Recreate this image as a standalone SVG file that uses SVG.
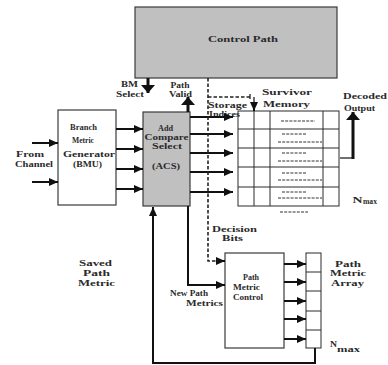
<svg xmlns="http://www.w3.org/2000/svg" width="388" height="365" viewBox="0 0 388 365">
<style>
text{font-family:"Liberation Serif","Times New Roman",serif;font-weight:bold;fill:#2a2a2a;text-anchor:middle;font-size:9px}
.box{stroke:#3a3a3a;stroke-width:1.2}
.gray{fill:#c0c0c0}
.white{fill:#fff}
.grid{stroke:#2a2a2a;stroke-width:1;fill:none}
.dash{stroke:#333;stroke-width:1;stroke-dasharray:3 1.2;fill:none}
.ln{stroke:#111;stroke-width:2;fill:none}
.thin{stroke:#222;stroke-width:1.3;fill:none}
.thick{stroke:#111;stroke-width:3;fill:none}
.dl{stroke:#222;stroke-width:1.6;stroke-dasharray:3.5 2;fill:none}
</style>
<defs>
<marker id="ah" viewBox="0 0 9 8" refX="9" refY="4" markerWidth="9" markerHeight="8" markerUnits="userSpaceOnUse" orient="auto"><path d="M0,0 L9,4 L0,8 z" fill="#111"/></marker>
<marker id="ahb" viewBox="0 0 8 14" refX="8" refY="7" markerWidth="8" markerHeight="14" markerUnits="userSpaceOnUse" orient="auto"><path d="M0,0 L8,7 L0,14 z" fill="#111"/></marker>
</defs>
<rect width="388" height="365" fill="#fff"/>

<g id="control-path">
<rect class="box gray" x="135" y="7" width="202" height="71"/>
<text x="243" y="42" font-size="12" textLength="70" lengthAdjust="spacingAndGlyphs">Control Path</text>
</g>

<g id="bmu">
<rect class="box white" x="58" y="110" width="58" height="95"/>
<text x="83.5" y="130" font-size="9.5" textLength="27" lengthAdjust="spacingAndGlyphs">Branch</text>
<text x="83" y="143" font-size="9.5" textLength="22" lengthAdjust="spacingAndGlyphs">Metric</text>
<text x="89" y="157" font-size="10" textLength="52" lengthAdjust="spacingAndGlyphs">Generator</text>
<text x="87.5" y="167" textLength="29" lengthAdjust="spacingAndGlyphs">(BMU)</text>
</g>

<g id="acs">
<rect class="box gray" x="143" y="112" width="47" height="94"/>
<text x="165.5" y="131" textLength="15" lengthAdjust="spacingAndGlyphs">Add</text>
<text x="166.5" y="140" textLength="44" lengthAdjust="spacingAndGlyphs">Compare</text>
<text x="167" y="148.5" textLength="30" lengthAdjust="spacingAndGlyphs">Select</text>
<text x="166" y="168.5" font-size="9.5" textLength="28" lengthAdjust="spacingAndGlyphs">(ACS)</text>
</g>

<g id="survivor-memory">
<rect class="grid" x="238" y="111" width="101" height="95"/>
<path class="grid" d="M238,129H339M238,148H339M238,167H339M238,187H339M254,111V206M270,111V206M323,111V206"/>
<path class="dash" d="M281,121H315M282,134H306M278,142H322M282,153H306M278,161H322M282,173H306M278,180H322M282,192H306M278,198H322M280,212H308"/>
<text x="287" y="95" font-size="10.5" textLength="50" lengthAdjust="spacingAndGlyphs">Survivor</text>
<text x="286.5" y="107" font-size="10.5" textLength="47" lengthAdjust="spacingAndGlyphs">Memory</text>
<text x="357.5" y="203" font-size="11" textLength="10" lengthAdjust="spacingAndGlyphs">N</text>
<text x="370" y="204" font-size="7.5" textLength="14" lengthAdjust="spacingAndGlyphs">max</text>
</g>

<g id="pmc">
<rect class="box white" x="225" y="253" width="59" height="95"/>
<text x="251" y="279.5" textLength="16" lengthAdjust="spacingAndGlyphs">Path</text>
<text x="246.5" y="290" textLength="27" lengthAdjust="spacingAndGlyphs">Metric</text>
<text x="248" y="299.5" textLength="30" lengthAdjust="spacingAndGlyphs">Control</text>
</g>

<g id="pm-array">
<rect class="grid" x="306" y="253" width="15" height="95"/>
<path class="grid" d="M306,272H321M306,291H321M306,311H321M306,330H321"/>
<text x="348" y="266.5" textLength="26" lengthAdjust="spacingAndGlyphs">Path</text>
<text x="348" y="275.5" textLength="36" lengthAdjust="spacingAndGlyphs">Metric</text>
<text x="347.5" y="285.5" textLength="33" lengthAdjust="spacingAndGlyphs">Array</text>
<text x="333.5" y="347" font-size="9.5" textLength="7" lengthAdjust="spacingAndGlyphs">N</text>
<text x="348.5" y="351.5" font-size="9" textLength="23" lengthAdjust="spacingAndGlyphs">max</text>
</g>

<g id="labels">
<text x="129.5" y="86.5" textLength="17" lengthAdjust="spacingAndGlyphs">BM</text>
<text x="130" y="96.5" textLength="28" lengthAdjust="spacingAndGlyphs">Select</text>
<text x="180" y="87.5" textLength="19" lengthAdjust="spacingAndGlyphs">Path</text>
<text x="180.5" y="96.5" textLength="23" lengthAdjust="spacingAndGlyphs">Valid</text>
<text x="227.5" y="107.5" textLength="39" lengthAdjust="spacingAndGlyphs">Storage</text>
<text x="224.5" y="116.5" font-size="8.5" textLength="31" lengthAdjust="spacingAndGlyphs">Indices</text>
<text x="365" y="98.5" font-size="10.5" textLength="44" lengthAdjust="spacingAndGlyphs">Decoded</text>
<text x="359.5" y="110.5" font-size="10.5" textLength="31" lengthAdjust="spacingAndGlyphs">Output</text>
<text x="30" y="156.5" font-size="9.5" textLength="28" lengthAdjust="spacingAndGlyphs">From</text>
<text x="34" y="166.5" font-size="9.5" textLength="38" lengthAdjust="spacingAndGlyphs">Channel</text>
<text x="234.5" y="231.5" font-size="10" textLength="45" lengthAdjust="spacingAndGlyphs">Decision</text>
<text x="232.5" y="240.5" font-size="10" textLength="21" lengthAdjust="spacingAndGlyphs">Bits</text>
<text x="95.5" y="266" font-size="9.5" textLength="33" lengthAdjust="spacingAndGlyphs">Saved</text>
<text x="96.5" y="275.5" font-size="9.5" textLength="27" lengthAdjust="spacingAndGlyphs">Path</text>
<text x="96.5" y="285.5" font-size="9.5" textLength="37" lengthAdjust="spacingAndGlyphs">Metric</text>
<text x="189" y="295.5" textLength="38" lengthAdjust="spacingAndGlyphs">New Path</text>
<text x="204.5" y="305.5" textLength="37" lengthAdjust="spacingAndGlyphs">Metrics</text>
</g>

<g id="connectors">
<path class="thick" d="M148,78V93" marker-end="url(#ahb)"/>
<path class="thick" d="M188,112V97" marker-end="url(#ahb)"/>
<path class="ln" d="M32,143H58" marker-end="url(#ah)"/>
<path class="ln" d="M32,182H58" marker-end="url(#ah)"/>
<path class="ln" d="M116,129H143" marker-end="url(#ah)"/>
<path class="ln" d="M116,149H143" marker-end="url(#ah)"/>
<path class="ln" d="M116,169H143" marker-end="url(#ah)"/>
<path class="ln" d="M116,189H143" marker-end="url(#ah)"/>
<path class="ln" d="M190,117H233" marker-end="url(#ah)"/>
<path class="ln" d="M190,134H233" marker-end="url(#ah)"/>
<path class="ln" d="M190,153H233" marker-end="url(#ah)"/>
<path class="ln" d="M190,172H233" marker-end="url(#ah)"/>
<path class="ln" d="M190,192H233" marker-end="url(#ah)"/>
<path class="dl" d="M208,78V261H216"/>
<path class="ln" d="M216,261H225" marker-end="url(#ah)"/>
<path class="dl" d="M208,97H250"/>
<path class="thin" d="M250,94V99M254,97V103"/>
<path class="ln" d="M254,102V111" marker-end="url(#ah)"/>
<path class="thin" d="M340,158H353"/>
<path class="thick" d="M353,159V112" marker-end="url(#ahb)"/>
<path class="ln" d="M188,206V285H225" marker-end="url(#ah)"/>
<path class="ln" d="M315,348V363H153V207" marker-end="url(#ah)"/>
<path class="ln" d="M284,264H306" marker-end="url(#ah)"/>
<path class="ln" d="M284,282H306" marker-end="url(#ah)"/>
<path class="ln" d="M284,301H306" marker-end="url(#ah)"/>
<path class="ln" d="M284,319H306" marker-end="url(#ah)"/>
<path class="ln" d="M284,339H306" marker-end="url(#ah)"/>
</g>
</svg>
